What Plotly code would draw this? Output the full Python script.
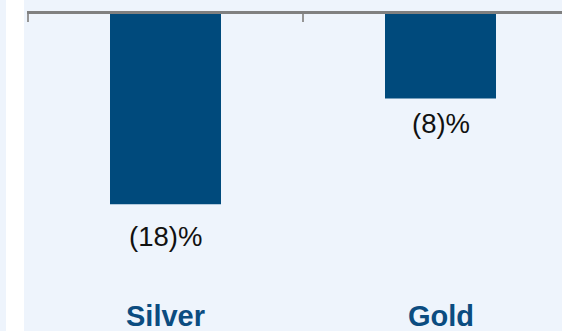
import plotly.graph_objects as go

categories = ["Silver", "Gold"]
values = [-18, -8]
value_labels = ["(18)%", "(8)%"]

BG = "#EEF4FC"
BAR = "#004A7C"
CAT = "#0B4C80"
TICK = "#959595"

PX = 275.0  # pixels per category
PLOT_H = 317.0
fig = go.Figure()
fig.add_trace(go.Bar(
    x=list(range(len(categories))), y=values, width=111 / PX,
    marker=dict(color=BAR, line=dict(width=0)), showlegend=False, hoverinfo="skip",
))

label_shift = [-32, -25]
for i, (v, t) in enumerate(zip(values, value_labels)):
    fig.add_annotation(x=i, y=v, xref="x", yref="y", text=t, showarrow=False,
                       yanchor="middle", yshift=label_shift[i],
                       font=dict(family="Liberation Sans, Arial", size=27.5, color="#111111"))
for i, c in enumerate(categories):
    fig.add_annotation(x=i, y=0, xref="x", yref="paper", text="<b>%s</b>" % c,
                       showarrow=False, yanchor="middle", yshift=15,
                       font=dict(family="Liberation Sans, Arial", size=29, color=CAT))

fig.add_shape(type="rect", xref="paper", yref="paper", x0=(6 - 27) / 535, x1=(24 - 27) / 535,
              y0=-0.1, y1=1.1, fillcolor="white", line=dict(width=0), layer="below")
# category boundary tick marks (left edge one drawn as shape since plotly drops edge ticks)
fig.add_shape(type="line", xref="x", yref="paper", x0=-0.5, x1=-0.5, y0=1, y1=1 - 8 / PLOT_H,
              line=dict(color=TICK, width=2))

fig.update_layout(
    width=562, height=331,
    margin=dict(l=27, r=0, t=14, b=0),
    paper_bgcolor=BG, plot_bgcolor=BG,
    xaxis=dict(range=[-0.5 - 1 / PX, -0.5 + 534 / PX], side="top", showline=True, linecolor="#808080",
               linewidth=3, ticks="inside", ticklen=8, tickwidth=2, tickcolor=TICK,
               tickvals=[-0.5, 0.5], ticktext=["", ""], showgrid=False, zeroline=False),
    yaxis=dict(range=[-30, 0], visible=False, showgrid=False, zeroline=False),
)
fig.write_html("out.html")
